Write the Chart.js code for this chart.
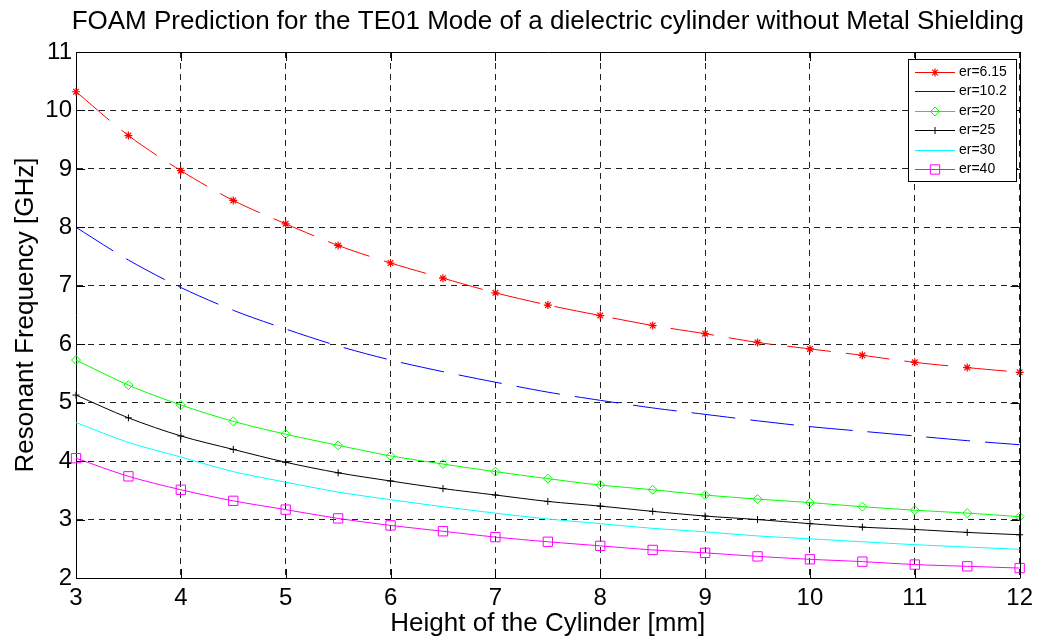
<!DOCTYPE html>
<html>
<head>
<meta charset="utf-8">
<script src="https://cdn.jsdelivr.net/npm/chart.js@4.4.1/dist/chart.umd.min.js"></script>
<style>
  html, body { margin: 0; padding: 0; background: #fff; }
  #wrap { width: 1039px; height: 640px; }
</style>
</head>
<body>
<div id="wrap"><canvas id="resChart" width="1039" height="640"></canvas></div>
<script>
// cylinder heights in mm
const heights = [3, 3.5, 4, 4.5, 5, 5.5, 6, 6.5, 7, 7.5, 8, 8.5, 9, 9.5, 10, 10.5, 11, 11.5, 12];

// resonant frequency in GHz, one list per permittivity
const er615 = [10.32, 9.57, 8.97, 8.46, 8.06, 7.69, 7.39, 7.13, 6.88, 6.67, 6.49, 6.32, 6.18, 6.03, 5.92, 5.81, 5.69, 5.60, 5.52];
const er102 = [8.00, 7.44, 6.97, 6.58, 6.26, 5.97, 5.73, 5.53, 5.35, 5.18, 5.04, 4.91, 4.80, 4.69, 4.59, 4.51, 4.43, 4.35, 4.28];
const er20  = [5.73, 5.30, 4.96, 4.68, 4.46, 4.27, 4.09, 3.95, 3.82, 3.70, 3.59, 3.51, 3.42, 3.35, 3.29, 3.22, 3.16, 3.11, 3.05];
const er25  = [5.13, 4.74, 4.43, 4.20, 3.98, 3.80, 3.66, 3.53, 3.42, 3.31, 3.23, 3.14, 3.06, 3.00, 2.93, 2.87, 2.83, 2.78, 2.74];
const er30  = [4.66, 4.32, 4.07, 3.82, 3.64, 3.47, 3.34, 3.22, 3.11, 3.01, 2.93, 2.85, 2.79, 2.72, 2.67, 2.62, 2.57, 2.53, 2.49];
const er40  = [4.05, 3.74, 3.51, 3.32, 3.17, 3.02, 2.90, 2.80, 2.70, 2.62, 2.55, 2.48, 2.43, 2.37, 2.32, 2.28, 2.23, 2.20, 2.17];

const xTicks = [3, 4, 5, 6, 7, 8, 9, 10, 11, 12];
const yTicks = [2, 3, 4, 5, 6, 7, 8, 9, 10, 11];

const FONT = "'Liberation Sans', Arial, Helvetica, sans-serif";
const TITLE = 'FOAM Prediction for the TE01 Mode of a dielectric cylinder without Metal Shielding';

function toPoints(values) {
    return values.map((v, i) => ({ x: heights[i], y: v }));
}

function makeSeries(label, values, color, style, radius, dashed) {
    return {
        label: label,
        data: toPoints(values),
        borderColor: color,
        backgroundColor: 'transparent',
        borderWidth: 1,
        borderDash: dashed ? [44, 15] : [],
        pointStyle: style || false,
        pointRadius: style ? radius : 0,
        pointBorderColor: color,
        pointBackgroundColor: 'transparent',
        pointBorderWidth: style === 'star' ? 1.2 : 1,
        tension: 0.3,
        clip: false
    };
}

const datasets = [
    makeSeries('er=6.15', er615, '#ff0000', 'star', 4, true),
    makeSeries('er=10.2', er102, '#0000ff', null, 0, true),
    makeSeries('er=20', er20, '#00ff00', 'rectRot', 4.5, false),
    makeSeries('er=25', er25, '#000000', 'cross', 3.5, false),
    makeSeries('er=30', er30, '#00ffff', null, 0, false),
    makeSeries('er=40', er40, '#ff00ff', 'rect', 6.6, false)
];

// title, inward ticks, top/right box lines and the boxed legend
const framePlugin = {
    id: 'frame',
    afterDraw(chart) {
        const ctx = chart.ctx;
        const area = chart.chartArea;
        const xs = chart.scales.x;
        const ys = chart.scales.y;

        ctx.save();
        ctx.fillStyle = '#000';
        ctx.font = '26px ' + FONT;
        ctx.textAlign = 'center';
        ctx.textBaseline = 'middle';
        ctx.fillText(TITLE, (area.left + area.right) / 2, 22);

        ctx.strokeStyle = '#000';
        ctx.lineWidth = 1;
        ctx.setLineDash([]);
        ctx.beginPath();
        ctx.moveTo(Math.round(area.left) + 0.5, Math.round(area.top) + 0.5);
        ctx.lineTo(Math.round(area.right) + 0.5, Math.round(area.top) + 0.5);
        ctx.lineTo(Math.round(area.right) + 0.5, Math.round(area.bottom) + 0.5);
        ctx.stroke();

        const len = 9;
        ctx.beginPath();
        xTicks.forEach(t => {
            const px = Math.round(xs.getPixelForValue(t)) + 0.5;
            ctx.moveTo(px, area.bottom);
            ctx.lineTo(px, area.bottom - len);
            ctx.moveTo(px, area.top);
            ctx.lineTo(px, area.top + len);
        });
        yTicks.forEach(t => {
            const py = Math.round(ys.getPixelForValue(t)) + 0.5;
            ctx.moveTo(area.left, py);
            ctx.lineTo(area.left + len, py);
            ctx.moveTo(area.right, py);
            ctx.lineTo(area.right - len, py);
        });
        ctx.stroke();

        // legend box
        const bx = 908, by = 59, bw = 108, bh = 122;
        ctx.fillStyle = '#fff';
        ctx.fillRect(bx, by, bw, bh);
        ctx.strokeRect(bx + 0.5, by + 0.5, bw, bh);

        ctx.font = '14px ' + FONT;
        ctx.textAlign = 'left';
        ctx.textBaseline = 'middle';
        chart.data.datasets.forEach((ds, i) => {
            const cy = Math.round(by + 13 + i * 19.4) + 0.5;
            ctx.strokeStyle = ds.borderColor;
            ctx.lineWidth = 1;
            ctx.setLineDash([]);
            ctx.beginPath();
            ctx.moveTo(915, cy);
            ctx.lineTo(955, cy);
            ctx.stroke();
            if (ds.pointStyle && Chart.helpers && Chart.helpers.drawPoint) {
                ctx.strokeStyle = ds.pointBorderColor;
                ctx.fillStyle = 'rgba(0,0,0,0)';
                ctx.lineWidth = ds.pointBorderWidth;
                Chart.helpers.drawPoint(ctx, {
                    pointStyle: ds.pointStyle,
                    radius: ds.pointRadius,
                    rotation: 0,
                    borderWidth: ds.pointBorderWidth
                }, 935, cy);
            }
            ctx.fillStyle = '#000';
            ctx.fillText(ds.label, 959, cy);
        });
        ctx.restore();
    }
};

const ctx = document.getElementById('resChart').getContext('2d');
new Chart(ctx, {
    type: 'line',
    data: { datasets: datasets },
    plugins: [framePlugin],
    options: {
        responsive: false,
        animation: false,
        layout: { padding: { top: 52, right: 18, left: 0, bottom: 0 } },
        plugins: {
            legend: { display: false },
            title: { display: false },
            tooltip: { enabled: false }
        },
        scales: {
            x: {
                type: 'linear',
                min: 3,
                max: 12,
                afterFit: scale => { scale.height = 62; },
                afterBuildTicks: scale => { scale.ticks = xTicks.map(v => ({ value: v })); },
                ticks: {
                    color: '#000',
                    font: { family: FONT, size: 24 },
                    padding: 6,
                    autoSkip: false,
                    maxRotation: 0
                },
                grid: {
                    color: '#222',
                    lineWidth: 1,
                    drawTicks: false
                },
                // in v4 the dash here is used by the grid lines
                border: { display: true, color: '#000', width: 1, dash: [6, 5] },
                title: {
                    display: true,
                    text: 'Height of the Cylinder [mm]',
                    color: '#000',
                    font: { family: FONT, size: 26 },
                    padding: { top: 0, bottom: 1 }
                }
            },
            y: {
                type: 'linear',
                min: 2,
                max: 11,
                afterFit: scale => { scale.width = 76; },
                afterBuildTicks: scale => { scale.ticks = yTicks.map(v => ({ value: v })); },
                ticks: {
                    color: '#000',
                    font: { family: FONT, size: 24 },
                    padding: 4,
                    autoSkip: false
                },
                grid: {
                    color: '#222',
                    lineWidth: 1,
                    drawTicks: false
                },
                border: { display: true, color: '#000', width: 1, dash: [6, 5] },
                title: {
                    display: true,
                    text: 'Resonant Frequency [GHz]',
                    color: '#000',
                    font: { family: FONT, size: 26 },
                    padding: { top: 10, bottom: 0 }
                }
            }
        }
    }
});
</script>
</body>
</html>
